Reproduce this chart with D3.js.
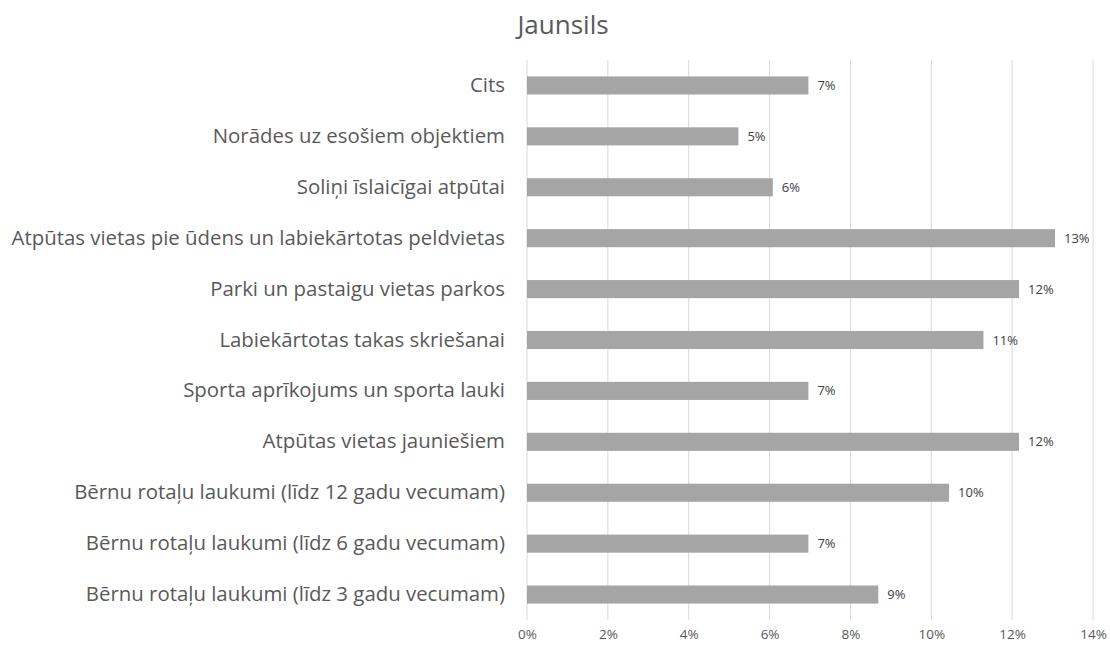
<!DOCTYPE html>
<html>
<head>
<meta charset="utf-8">
<script src="https://cdn.jsdelivr.net/npm/d3@7"></script>
<style>
  body { margin: 0; background: #fff; }
  text { font-family: "Open Sans", sans-serif; }
</style>
</head>
<body>
<div class="d3-container"></div>
<script>
const categories = [
    "Cits",
    "Norādes uz esošiem objektiem",
    "Soliņi īslaicīgai atpūtai",
    "Atpūtas vietas pie ūdens un labiekārtotas peldvietas",
    "Parki un pastaigu vietas parkos",
    "Labiekārtotas takas skriešanai",
    "Sporta aprīkojums un sporta lauki",
    "Atpūtas vietas jauniešiem",
    "Bērnu rotaļu laukumi (līdz 12 gadu vecumam)",
    "Bērnu rotaļu laukumi (līdz 6 gadu vecumam)",
    "Bērnu rotaļu laukumi (līdz 3 gadu vecumam)"
]
const values = [6.96, 5.23, 6.08, 13.06, 12.17, 11.29, 6.96, 12.17, 10.44, 6.96, 8.69]
const xTicks = [0, 2, 4, 6, 8, 10, 12, 14]
const title = "Jaunsils"

const margin = { top: 60, right: 17, bottom: 26, left: 527 },
    width = 1110 - margin.left - margin.right,
    height = 646 - margin.top - margin.bottom;

const root = d3.select(".d3-container").append("svg")
    .attr("width", 1110).attr("height", 646)

root.append("text").attr("x", 563).attr("y", 34)
    .attr("text-anchor", "middle").style("font-size", "26px").style("fill", "#595959")
    .text(title)

const svg = root.append("g").attr("transform", `translate(${margin.left},${margin.top})`)

const x = d3.scaleLinear().domain([0, 14]).range([0, width])
const y = d3.scaleBand().domain(categories).range([0, height]).paddingInner(0.645).paddingOuter(0.3225)

// gridlines
svg.append("g").selectAll("line").data(xTicks).join("line")
    .attr("x1", d => x(d)).attr("x2", d => x(d))
    .attr("y1", 0).attr("y2", height)
    .style("stroke", "#d9d9d9").style("stroke-width", 1)

// x axis labels
const xAxis = svg.append("g").attr("transform", `translate(0, ${height})`)
    .call(d3.axisBottom(x).tickValues(xTicks).tickFormat(d => d + "%").tickSize(0).tickPadding(9))
xAxis.select(".domain").remove()
xAxis.selectAll("text").style("font-size", "13.5px").style("fill", "#595959").style("font-family", "Open Sans, sans-serif")

// y axis labels
const yAxis = svg.append("g").call(d3.axisLeft(y).tickSize(0).tickPadding(22))
yAxis.select(".domain").remove()
yAxis.selectAll("text").style("font-size", "20.4px").style("fill", "#595959").style("font-family", "Open Sans, sans-serif")

svg.selectAll(".bar").data(values).join("rect").attr("class", "bar")
    .attr("x", x(0))
    .attr("y", (d, i) => y(categories[i]))
    .attr("width", d => x(d) - x(0))
    .attr("height", y.bandwidth())
    .style("fill", "#a5a5a5")

svg.selectAll(".lbl").data(values).join("text").attr("class", "lbl")
    .attr("x", d => x(d) + 9)
    .attr("y", (d, i) => y(categories[i]) + y.bandwidth() / 2)
    .attr("dy", "0.35em")
    .style("font-size", "13px").style("fill", "#404040")
    .text(d => Math.round(d) + "%")
</script>
</body>
</html>
